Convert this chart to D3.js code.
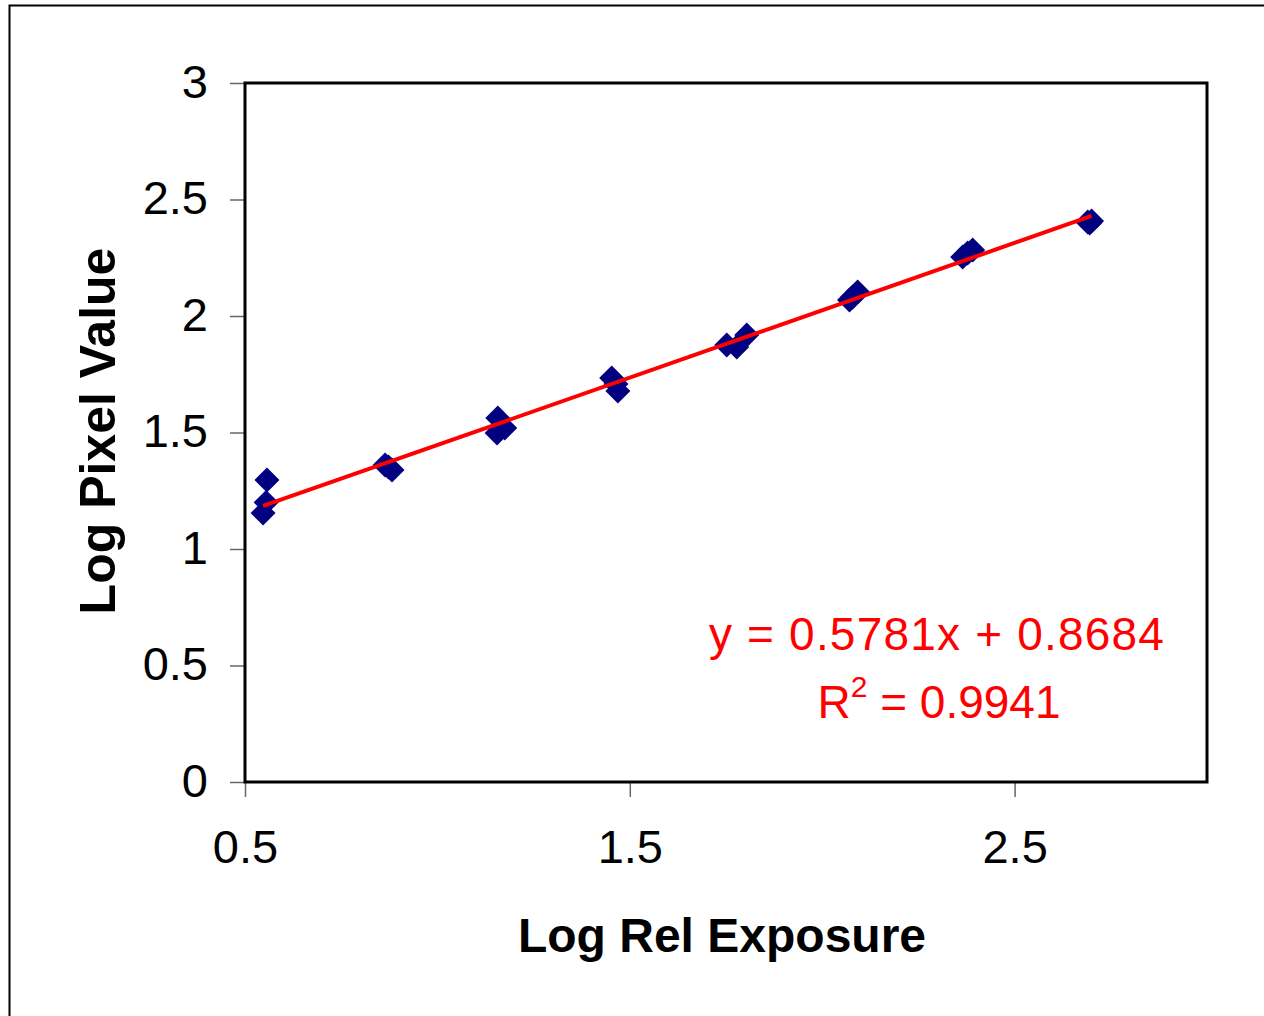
<!DOCTYPE html>
<html>
<head>
<meta charset="utf-8">
<script src="https://cdn.jsdelivr.net/npm/d3@7"></script>
<style>
  html, body { margin: 0; padding: 0; background: #fff; }
  svg { display: block; }
  text { font-family: "Liberation Sans", Arial, sans-serif; }
</style>
</head>
<body>
<script>
// Measured densities: log relative exposure vs. log pixel value (3 readings per step)
const logExposure = [
  0.557, 0.555, 0.547,
  0.864, 0.882, 0.873,
  1.157, 1.155, 1.175,
  1.453, 1.469, 1.464,
  1.752, 1.778, 1.804,
  2.071, 2.092, 2.079,
  2.378, 2.391, 2.365,
  2.690, 2.700, 2.695
];
const logPixel = [
  1.296, 1.200, 1.154,
  1.360, 1.339, 1.352,
  1.562, 1.498, 1.519,
  1.734, 1.678, 1.708,
  1.876, 1.867, 1.918,
  2.069, 2.103, 2.082,
  2.270, 2.283, 2.253,
  2.403, 2.408, 2.399
];

// Linear trendline coefficients
const slope = 0.5781;
const intercept = 0.8684;
const rSquared = 0.9941;

const xTicks = [0.5, 1.5, 2.5];
const yTicks = [0, 0.5, 1, 1.5, 2, 2.5, 3];
const xTitle = "Log Rel Exposure";
const yTitle = "Log Pixel Value";

const W = 1264, H = 1016;
const plot = { left: 245, top: 83, right: 1207, bottom: 782 };

const svg = d3.select("body").append("svg")
  .attr("width", W).attr("height", H);

// Outer chart border
svg.append("rect")
  .attr("x", 9.5).attr("y", 5.5)
  .attr("width", W + 20).attr("height", H + 20)
  .attr("fill", "#fff").attr("stroke", "#000").attr("stroke-width", 2);

const x = d3.scaleLinear().domain([0.5, 3]).range([plot.left, plot.right]);
const y = d3.scaleLinear().domain([0, 3]).range([plot.bottom, plot.top]);

// Axes (tick marks + labels)
const yAxis = svg.append("g")
  .attr("transform", `translate(${plot.left},0)`)
  .call(d3.axisLeft(y).tickValues(yTicks).tickSize(15).tickPadding(22)
    .tickFormat(d3.format("")));
yAxis.select(".domain").remove();
yAxis.selectAll(".tick line").attr("stroke", "#666").attr("stroke-width", 1.5);
yAxis.selectAll(".tick text")
  .attr("font-size", 47).attr("fill", "#000")
  .attr("font-family", "Liberation Sans, Arial, sans-serif")
  .attr("dy", "0.30em");

const xAxis = svg.append("g")
  .attr("transform", `translate(0,${plot.bottom})`)
  .call(d3.axisBottom(x).tickValues(xTicks).tickSize(15)
    .tickFormat(d3.format("")));
xAxis.select(".domain").remove();
xAxis.selectAll(".tick line").attr("stroke", "#666").attr("stroke-width", 1.5);
xAxis.selectAll(".tick text")
  .attr("font-size", 47).attr("fill", "#000")
  .attr("font-family", "Liberation Sans, Arial, sans-serif")
  .attr("y", 81).attr("dy", 0);

// Plot frame
svg.append("rect")
  .attr("x", plot.left).attr("y", plot.top)
  .attr("width", plot.right - plot.left).attr("height", plot.bottom - plot.top)
  .attr("fill", "none").attr("stroke", "#000").attr("stroke-width", 3);

// Data markers (diamonds)
const points = logExposure.map((v, i) => ({ x: v, y: logPixel[i] }));
const diamond = "M0,-12.5L12.5,0L0,12.5L-12.5,0Z";
svg.append("g").selectAll("path")
  .data(points).join("path")
  .attr("d", diamond)
  .attr("transform", d => `translate(${x(d.x)},${y(d.y)})`)
  .attr("fill", "#000080");

// Trendline over the data range
const xExtent = d3.extent(logExposure);
const trend = xExtent.map(v => ({ x: v, y: slope * v + intercept }));
svg.append("path")
  .datum(trend)
  .attr("d", d3.line().x(d => x(d.x)).y(d => y(d.y)))
  .attr("fill", "none").attr("stroke", "#ff0000").attr("stroke-width", 4);

// Equation label
const eq = svg.append("g").attr("fill", "#ff0000")
  .attr("font-size", 46).attr("text-anchor", "middle");
eq.append("text")
  .attr("x", 937).attr("y", 650)
  .attr("letter-spacing", 1.2)
  .text(`y = ${slope}x + ${intercept}`);
const r2 = eq.append("text").attr("x", 939).attr("y", 718);
r2.append("tspan").text("R");
r2.append("tspan").attr("font-size", 30).attr("dy", -21).text("2");
r2.append("tspan").attr("dy", 21).text(` = ${rSquared}`);

// Axis titles
svg.append("text")
  .attr("x", 722).attr("y", 952)
  .attr("text-anchor", "middle")
  .attr("font-size", 48).attr("font-weight", "bold")
  .text(xTitle);

svg.append("text")
  .attr("transform", "translate(115,431) rotate(-90)")
  .attr("text-anchor", "middle")
  .attr("font-size", 50).attr("font-weight", "bold")
  .text(yTitle);
</script>
</body>
</html>
